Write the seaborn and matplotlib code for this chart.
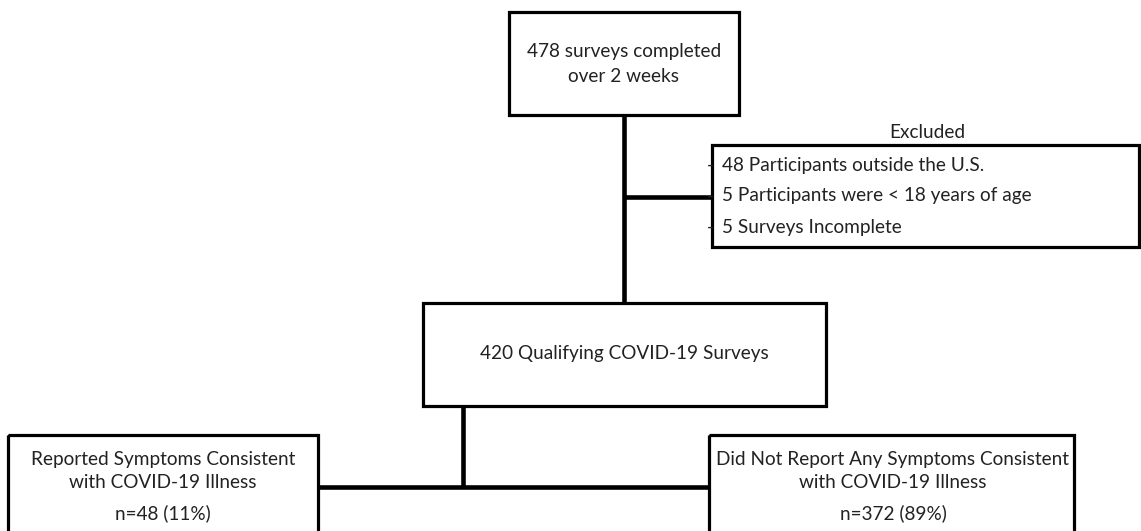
import matplotlib
matplotlib.use("Agg")
import matplotlib.pyplot as plt
import seaborn as sns
from matplotlib.patches import Rectangle

sns.set_theme(style="white")
plt.rcParams["font.family"] = ["Lato", "DejaVu Sans"]

# flowchart content
start_label = ["478 surveys completed", "over 2 weeks"]
excluded_title = "Excluded"
excluded_items = ["48 Participants outside the U.S.",
                  "5 Participants were < 18 years of age",
                  "5 Surveys Incomplete"]
qualifying_label = "420 Qualifying COVID-19 Surveys"
symptom_label = ["Reported Symptoms Consistent", "with COVID-19 Illness", "n=48 (11%)"]
no_symptom_label = ["Did Not Report Any Symptoms Consistent", "with COVID-19 Illness", "n=372 (89%)"]

W, H = 1141, 531
fig = plt.figure(figsize=(W / 100, H / 100), dpi=100)
ax = fig.add_axes([0, 0, 1, 1])
ax.set_xlim(0, W)
ax.set_ylim(H, 0)
ax.axis("off")

BOX_LW = 2.3
LINE_LW = 3.3
FS = 13.7
TXT = "#222222"


def box(x0, y0, x1, y1):
    ax.add_patch(Rectangle((x0, y0), x1 - x0, y1 - y0, fill=False,
                           edgecolor="black", linewidth=BOX_LW, zorder=2))


def line(xs, ys):
    ax.plot(xs, ys, color="black", linewidth=LINE_LW, solid_capstyle="butt", zorder=1)


# top box
box(509, 12, 739, 115)
ax.text(624, 52, start_label[0], ha="center", va="center", fontsize=FS, color=TXT)
ax.text(624, 76, start_label[1], ha="center", va="center", fontsize=FS, color=TXT)

# trunk to qualifying box + branch to excluded
line([624, 624], [115, 303])
line([624, 712], [197, 197])

# excluded box
ax.text(927, 132, excluded_title, ha="center", va="center", fontsize=FS, color=TXT)
box(712, 145, 1139, 247)
for y, item in zip([165, 196, 227], excluded_items):
    ax.text(707, y, "-", ha="left", va="center", fontsize=FS, color=TXT, zorder=3)
    ax.text(722, y, item, ha="left", va="center", fontsize=FS, color=TXT)

# qualifying box
box(423, 303, 826, 406)
ax.text(624, 354, qualifying_label, ha="center", va="center", fontsize=FS, color=TXT)

# split into two groups
line([463, 463], [406, 487])
line([318, 709], [487, 487])

# left box
box(8, 435, 318, 545)
for y, txt in zip([460, 483, 513], symptom_label):
    ax.text(163, y, txt, ha="center", va="center", fontsize=FS, color=TXT)

# right box
box(709, 435, 1074, 545)
for y, txt in zip([460, 483, 513], no_symptom_label):
    ax.text(893, y, txt, ha="center", va="center", fontsize=FS, color=TXT)

fig.savefig("out.png", dpi=100, facecolor="white")
